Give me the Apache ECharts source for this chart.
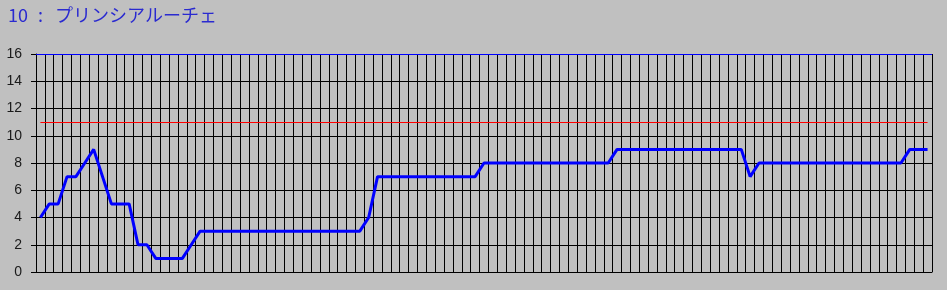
<!DOCTYPE html>
<html>
<head>
<meta charset="utf-8">
<script src="https://cdn.jsdelivr.net/npm/echarts@6/dist/echarts.min.js"></script>
<style>
html,body{margin:0;padding:0;background:#C0C0C0;}
#chart{width:947px;height:290px;}
</style>
</head>
<body>
<div id="chart"></div>
<script>
const titleNum = "10";
const titleName = "プリンシアルーチェ";
const positions = [
  4, 5, 5, 7, 7, 8, 9, 7, 5, 5,
  5, 2, 2, 1, 1, 1, 1, 2, 3, 3,
  3, 3, 3, 3, 3, 3, 3, 3, 3, 3,
  3, 3, 3, 3, 3, 3, 3, 4, 7, 7,
  7, 7, 7, 7, 7, 7, 7, 7, 7, 7,
  8, 8, 8, 8, 8, 8, 8, 8, 8, 8,
  8, 8, 8, 8, 8, 9, 9, 9, 9, 9,
  9, 9, 9, 9, 9, 9, 9, 9, 9, 9,
  7, 8, 8, 8, 8, 8, 8, 8, 8, 8,
  8, 8, 8, 8, 8, 8, 8, 8, 9, 9,
  9
];
const categories = positions.map((_, i) => String(i + 1));
const redLevel = 11;
const topLevel = 16;
const yTicks = [0, 2, 4, 6, 8, 10, 12, 14, 16];

const chart = echarts.init(document.getElementById('chart'));
chart.setOption({
  backgroundColor: '#C0C0C0',
  animation: false,
  title: {
    text: '{a|' + titleNum + '}{b|:}{c|' + titleName + '}',
    left: 3, top: 1,
    textStyle: {
      fontWeight: 'normal',
      rich: {
        a: { fontFamily: 'Noto Sans CJK JP', fontWeight: 'normal', fontSize: 18, color: '#2a2ad0' },
        b: { fontFamily: 'Noto Sans CJK JP', fontWeight: 'normal', fontSize: 18, color: '#2a2ad0', padding: [0, 12, 0, 10] },
        c: { fontFamily: 'Noto Sans CJK JP', fontWeight: 'normal', fontSize: 18, color: '#2a2ad0' }
      }
    }
  },
  grid: { left: 36, right: 15, top: 54, bottom: 18, containLabel: false },
  xAxis: {
    type: 'category',
    data: categories,
    boundaryGap: true,
    axisLine: { show: true, lineStyle: { color: '#000', width: 1 } },
    axisTick: { show: false },
    axisLabel: { show: false },
    splitLine: { show: true, interval: 0, lineStyle: { color: '#000', width: 1 } }
  },
  yAxis: {
    type: 'value',
    min: yTicks[0], max: yTicks[yTicks.length - 1], interval: 2,
    axisLine: { show: true, lineStyle: { color: '#000', width: 1 } },
    axisTick: { show: true, length: 5, lineStyle: { color: '#000' } },
    axisLabel: { margin: 14, fontFamily: 'Liberation Sans', fontSize: 14, color: '#1a1a1a' },
    splitLine: { show: true, lineStyle: { color: '#000', width: 1 } }
  },
  series: [
    {
      type: 'line',
      data: positions,
      symbol: 'none',
      lineStyle: { color: '#0000ff', width: 3 },
      z: 5,
      markLine: {
        silent: true,
        symbol: 'none',
        label: { show: false },
        data: [
          { yAxis: topLevel, lineStyle: { color: '#0000ff', width: 1, type: 'solid' } },
          [
            { coord: [categories[0], redLevel], lineStyle: { color: '#ff0000', width: 1, type: 'solid' } },
            { coord: [categories[categories.length - 1], redLevel] }
          ]
        ]
      }
    }
  ]
});
</script>
</body>
</html>
